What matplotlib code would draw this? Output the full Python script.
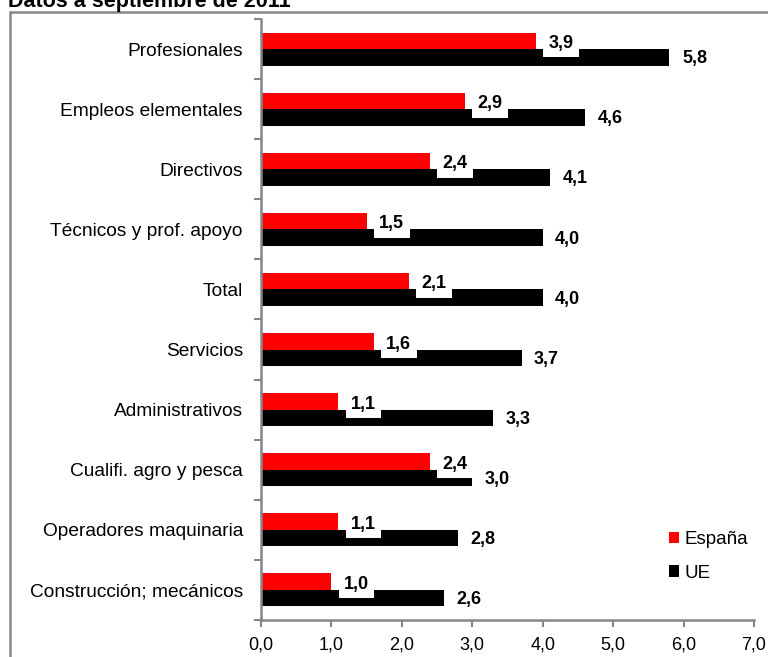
import matplotlib
matplotlib.use("Agg")
import matplotlib.pyplot as plt
from matplotlib.patches import Rectangle
from matplotlib.ticker import FixedLocator, FuncFormatter

plt.rcParams["font.family"] = ["Liberation Sans", "DejaVu Sans"]

# top-to-bottom order as shown in the chart
categories = [
    "Profesionales",
    "Empleos elementales",
    "Directivos",
    "Técnicos y prof. apoyo",
    "Total",
    "Servicios",
    "Administrativos",
    "Cualifi. agro y pesca",
    "Operadores maquinaria",
    "Construcción; mecánicos",
]
espana = [3.9, 2.9, 2.4, 1.5, 2.1, 1.6, 1.1, 2.4, 1.1, 1.0]
ue = [5.8, 4.6, 4.1, 4.0, 4.0, 3.7, 3.3, 3.0, 2.8, 2.6]
x_ticks = [0, 1, 2, 3, 4, 5, 6, 7]

RED = "#ff0000"
BLACK = "#000000"
GREY = "#868686"

W, H = 768, 657
fig = plt.figure(figsize=(W / 100, H / 100), dpi=100)
ax = fig.add_axes([261 / W, 1 - 620 / H, (754 - 261) / W, (620 - 19) / H])

n = len(categories)
pos = [n - 1 - i for i in range(n)]
bh = 0.275

ax.barh([p + bh / 2 for p in pos], espana, height=bh, color=RED, label="España")
ax.barh([p - bh / 2 for p in pos], ue, height=bh, color=BLACK, label="UE")

fmt = lambda v: f"{v:.1f}".replace(".", ",")
for p, e, u in zip(pos, espana, ue):
    ax.annotate(fmt(e), (e, p + bh / 2), xytext=(9, -2), textcoords="offset points",
                ha="left", va="center", fontsize=13, fontweight="bold",
                bbox=dict(boxstyle="square,pad=0.3", fc="white", ec="none"))
    ax.annotate(fmt(u), (u, p - bh / 2), xytext=(9, -1), textcoords="offset points",
                ha="left", va="center", fontsize=13, fontweight="bold")

ax.set_xlim(0, 7)
ax.set_ylim(-0.5, n - 0.5)
ax.xaxis.set_major_locator(FixedLocator(x_ticks))
ax.xaxis.set_major_formatter(FuncFormatter(lambda v, _: fmt(v)))
ax.set_yticks(pos)
ax.set_yticklabels(categories)
ax.yaxis.set_minor_locator(FixedLocator([i - 0.5 for i in range(n + 1)]))
ax.tick_params(axis="y", which="major", length=0, pad=13, labelsize=13.8)
ax.tick_params(axis="y", which="minor", length=5, width=1.5, color=GREY, direction="out")
ax.tick_params(axis="x", length=5, width=1.5, color=GREY, direction="out", pad=7, labelsize=13)

for s in ("top", "right"):
    ax.spines[s].set_visible(False)
for s in ("left", "bottom"):
    ax.spines[s].set_color(GREY)
    ax.spines[s].set_linewidth(1.8)

ax.legend(loc="upper left", bbox_to_anchor=(652 / W, 1 - 514 / H),
          bbox_transform=fig.transFigure, frameon=False, fontsize=13.5,
          handlelength=0.55, handleheight=0.55, handletextpad=0.3, labelspacing=0.9)

# outer frame of the original picture (cut off at right and bottom)
fig.patches.append(Rectangle((10 / W, -0.1), 1.2, 1 - 12 / H + 0.1,
                             transform=fig.transFigure, fill=False,
                             ec=GREY, lw=1.8, zorder=0))
fig.text(8 / W, 1 - 7 / H, "Datos a septiembre de 2011", ha="left", va="baseline",
         fontsize=15.5, fontweight="bold")

fig.savefig("out.png", dpi=100, facecolor="white")
